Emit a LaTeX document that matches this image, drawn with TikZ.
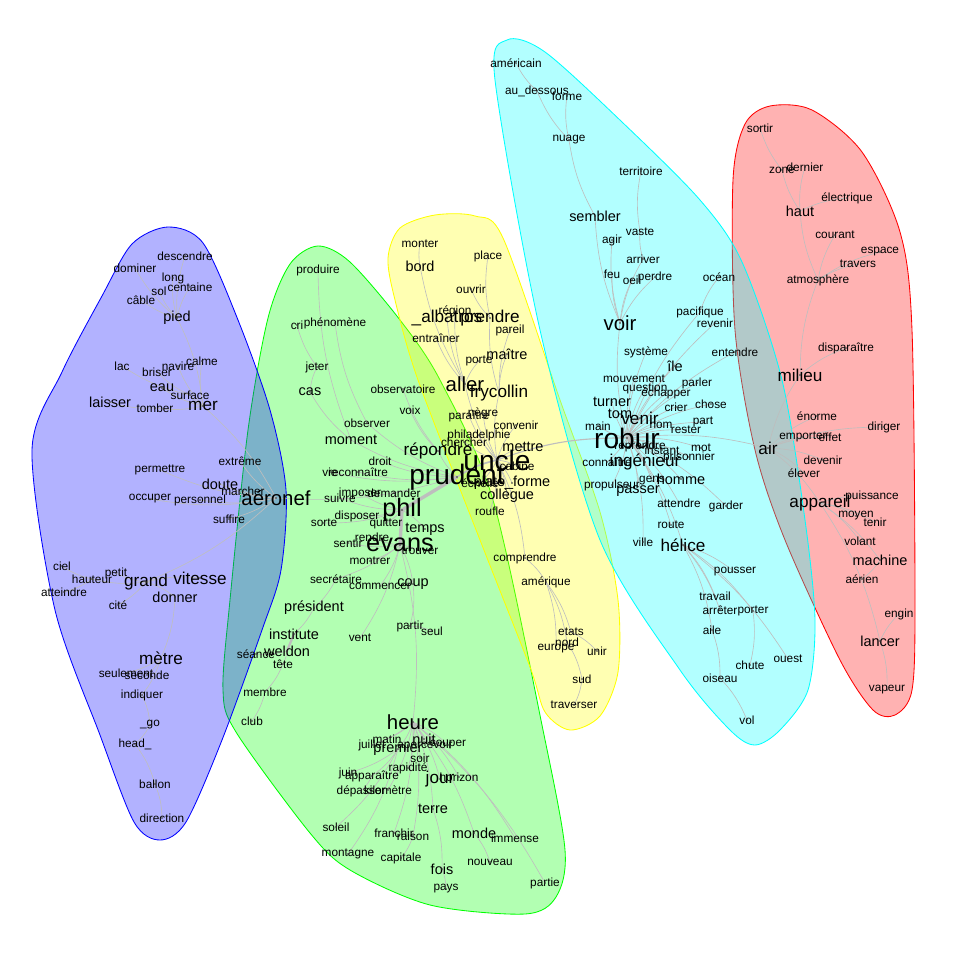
\documentclass[tikz,border=0pt]{standalone}
\usepackage{fontspec}
\setmainfont{Liberation Sans}
\usepackage{xcolor}
\usepackage{tikz}

\definecolor{bleu}{RGB}{0,0,255}
\definecolor{vert}{RGB}{0,255,0}
\definecolor{jaune}{RGB}{255,255,0}
\definecolor{cyanclair}{RGB}{0,255,255}
\definecolor{rouge}{RGB}{255,0,0}
\definecolor{gris}{RGB}{190,190,190}

\pgfdeclarelayer{enveloppes}
\pgfdeclarelayer{liens}
\pgfsetlayers{enveloppes,liens,main}

\begin{document}
\begin{tikzpicture}[
    x=0.025cm, y=-0.025cm,
    point/.style={circle, fill=black!80, inner sep=0pt, minimum size=1.2pt},
    mot/.style={inner sep=0pt, font=\fontsize{8.4}{9}\selectfont, label={[point]center:{}}},
    motm/.style={mot, font=\fontsize{10.3}{11}\selectfont},
    motl/.style={mot, font=\fontsize{12.2}{13}\selectfont},
    motxl/.style={mot, font=\fontsize{14.5}{15}\selectfont},
    motxxl/.style={mot, font=\fontsize{18}{19}\selectfont},
    mottitre/.style={mot, font=\fontsize{20}{21}\selectfont},
    enveloppe/.style={draw=#1, fill=#1, fill opacity=0.3, draw opacity=1, line width=0.6pt},
    every edge/.style={draw=gris, line width=0.45pt, bend left=10},
    lienfort/.style={line width=2.4pt, bend left=0}
]
\useasboundingbox (0,0) rectangle (960,960);

% mots du groupe bleu
\node[mot] (descendre) at (185,256) {descendre};
\node[mot] (dominer) at (135,268) {dominer};
\node[mot] (long) at (173,278) {long};
\node[mot] (sol) at (159,291) {sol};
\node[mot] (centaine) at (190,287) {centaine};
\node[mot] (cable) at (141,300) {câble};
\node[motm] (pied) at (177,318) {pied};
\node[mot] (lac) at (122,366) {lac};
\node[mot] (calme) at (202,361) {calme};
\node[mot] (navire) at (178,366) {navire};
\node[mot] (briser) at (157,372) {briser};
\node[motm] (eau) at (162,388) {eau};
\node[mot] (surface) at (190,395) {surface};
\node[motm] (laisser) at (110,402) {laisser};
\node[mot] (tomber) at (155,408) {tomber};
\node[motl] (mer) at (203,406) {mer};
\node[mot] (permettre) at (160,470) {permettre};
\node[mot] (extreme) at (240,461) {extrême};
\node[motm] (doute) at (220,484) {doute};
\node[mot] (marcher) at (243,491) {marcher};
\node[mot] (occuper) at (150,499) {occuper};
\node[mot] (personnel) at (200,500) {personnel};
\node[mot] (suffire) at (229,519) {suffire};
\node[mot] (ciel) at (62,566) {ciel};
\node[mot] (petit) at (116,573) {petit};
\node[mot] (hauteur) at (92,579) {hauteur};
\node[motl] (grand) at (146,582) {grand};
\node[motl] (vitesse) at (200,578) {vitesse};
\node[mot] (atteindre) at (64,592) {atteindre};
\node[motm] (donner) at (175,597) {donner};
\node[mot] (cite) at (118,605) {cité};
\node[motl] (metre) at (161,658) {mètre};
\node[mot] (seulement) at (126,673) {seulement};
\node[mot] (seconde) at (147,675) {seconde};
\node[mot] (indiquer) at (142,695) {indiquer};
\node[mot] (go) at (150,725) {\_go};
\node[mot] (head) at (135,744) {head\_};
\node[mot] (ballon) at (155,784) {ballon};
\node[mot] (direction) at (162,818) {direction};

% mots du groupe vert
\node[motxl] (aeronef) at (276,498) {aéronef};
\node[mot] (produire) at (318,270) {produire};
\node[mot] (cri) at (297,325) {cri};
\node[mot] (phenomene) at (335,323) {phénomène};
\node[mot] (jeter) at (317,367) {jeter};
\node[motm] (cas) at (310,392) {cas};
\node[mot] (observatoire) at (403,389) {observatoire};
\node[mot] (voix) at (410,410) {voix};
\node[mot] (observer) at (367,423) {observer};
\node[motm] (moment) at (351,440) {moment};
\node[motl] (repondre) at (438,451) {répondre};
\node[mottitre] (prudent) at (457,477) {prudent};
\node[mot] (droit) at (380,461) {droit};
\node[mot] (vie) at (330,472) {vie};
\node[mot] (reconnaitre) at (358,472) {reconnaître};
\node[mot] (imposer) at (360,493) {imposer};
\node[mot] (demander) at (394,493) {demander};
\node[mot] (suivre) at (340,498) {suivre};
\node[mot] (sorte) at (324,523) {sorte};
\node[mot] (disposer) at (357,516) {disposer};
\node[mot] (quitter) at (386,523) {quitter};
\node[mot] (rendre) at (372,537) {rendre};
\node[mot] (sentir) at (348,543) {sentir};
\node[motxxl] (phil) at (402,510) {phil};
\node[motm] (temps) at (425,529) {temps};
\node[motxxl] (evans) at (400,545) {evans};
\node[mot] (trouver) at (420,551) {trouver};
\node[mot] (montrer) at (370,561) {montrer};
\node[mot] (secretaire) at (336,579) {secrétaire};
\node[mot] (commencer) at (380,586) {commencer};
\node[motm] (coup) at (413,584) {coup};
\node[motm] (president) at (314,608) {président};
\node[mot] (partir) at (410,626) {partir};
\node[mot] (seul) at (432,631) {seul};
\node[mot] (vent) at (360,638) {vent};
\node[motm] (institute) at (294,634) {institute};
\node[motm] (weldon) at (287,651) {weldon};
\node[mot] (seance) at (256,654) {séance};
\node[mot] (tete) at (283,664) {tête};
\node[mot] (membre) at (265,692) {membre};
\node[mot] (club) at (252,721) {club};
\node[motxl] (heure) at (413,722) {heure};
\node[mot] (matin) at (387,739) {matin};
\node[motm] (nuit) at (424,739) {nuit};
\node[mot] (juillet) at (372,745) {juillet};
\node[motm] (premier) at (398,749) {premier};
\node[mot] (apercevoir) at (425,745) {apercevoir};
\node[mot] (couper) at (448,745) {couper};
\node[mot] (soir) at (420,758) {soir};
\node[mot] (rapidite) at (408,768) {rapidité};
\node[mot] (juin) at (348,773) {juin};
\node[mot] (apparaitre) at (372,776) {apparaître};
\node[motl] (jour) at (440,779) {jour};
\node[mot] (horizon) at (459,777) {horizon};
\node[mot] (depasser) at (361,791) {dépasser};
\node[mot] (kilometre) at (388,790) {kilomètre};
\node[motm] (terre) at (433,809) {terre};
\node[mot] (soleil) at (336,827) {soleil};
\node[mot] (franchir) at (394,833) {franchir};
\node[mot] (raison) at (413,836) {raison};
\node[motm] (monde) at (474,833) {monde};
\node[mot] (immense) at (515,838) {immense};
\node[mot] (montagne) at (348,854) {montagne};
\node[mot] (capitale) at (401,858) {capitale};
\node[motm] (fois) at (442,869) {fois};
\node[mot] (nouveau) at (490,862) {nouveau};
\node[mot] (pays) at (446,889) {pays};
\node[mot] (partie) at (545,883) {partie};

% mots du groupe jaune
\node[mot] (monter) at (420,244) {monter};
\node[mot] (place) at (488,256) {place};
\node[motm] (bord) at (420,266) {bord};
\node[mot] (ouvrir) at (471,289) {ouvrir};
\node[mot] (region) at (455,311) {région};
\node[motl] (albatros) at (447,318) {\_albatros};
\node[motl] (prendre) at (490,318) {prendre};
\node[mot] (entrainer) at (436,338) {entraîner};
\node[mot] (pareil) at (510,330) {pareil};
\node[motm] (maitre) at (507,354) {maître};
\node[mot] (porte) at (479,361) {porte};
\node[motxl] (aller) at (465,384) {aller};
\node[motl] (frycollin) at (499,393) {frycollin};
\node[mot] (paraitre) at (469,416) {paraître};
\node[mot] (negre) at (483,413) {nègre};
\node[mot] (convenir) at (516,425) {convenir};
\node[mot] (philadelphie) at (479,435) {philadelphie};
\node[mot] (chercher) at (464,442) {chercher};
\node[motm] (mettre) at (523,447) {mettre};
\node[mottitre] (uncle) at (497,460) {uncle};
\node[mot] (cabine) at (517,466) {cabine};
\node[mot] (echelle) at (480,483) {échelle};
\node[motm] (plateforme) at (512,483) {plate\_forme};
\node[motm] (collegue) at (507,496) {collègue};
\node[mot] (roufle) at (490,511) {roufle};
\node[mot] (comprendre) at (525,558) {comprendre};
\node[mot] (amerique) at (546,582) {amérique};
\node[mot] (etats) at (571,632) {etats};
\node[mot] (nord) at (567,642) {nord};
\node[mot] (europe) at (556,649) {europe};
\node[mot] (unir) at (597,651) {unir};
\node[mot] (sud) at (582,679) {sud};
\node[mot] (traverser) at (574,705) {traverser};

% mots du groupe cyan
\node[mot] (americain) at (516,63) {américain};
\node[mot] (audessous) at (537,91) {au\_dessous};
\node[mot] (forme) at (567,96) {forme};
\node[mot] (nuage) at (569,140) {nuage};
\node[mot] (territoire) at (641,171) {territoire};
\node[motm] (sembler) at (595,216) {sembler};
\node[mot] (vaste) at (640,232) {vaste};
\node[mot] (agir) at (612,240) {agir};
\node[mot] (arriver) at (643,259) {arriver};
\node[mot] (feu) at (612,274) {feu};
\node[mot] (oeil) at (632,280) {oeil};
\node[mot] (perdre) at (655,277) {perdre};
\node[mot] (ocean) at (719,277) {océan};
\node[motxl] (voir) at (620,323) {voir};
\node[mot] (pacifique) at (700,312) {pacifique};
\node[mot] (revenir) at (715,323) {revenir};
\node[mot] (systeme) at (646,352) {système};
\node[motm] (ile) at (675,366) {île};
\node[mot] (entendre) at (735,352) {entendre};
\node[mot] (mouvement) at (634,379) {mouvement};
\node[mot] (parler) at (697,383) {parler};
\node[mot] (question) at (645,388) {question};
\node[mot] (echapper) at (666,393) {échapper};
\node[motm] (turner) at (612,402) {turner};
\node[mot] (chose) at (711,404) {chose};
\node[mot] (crier) at (676,407) {crier};
\node[motm] (tom) at (620,414) {tom};
\node[motl] (venir) at (640,418) {venir};
\node[mot] (part) at (703,422) {part};
\node[mot] (nom) at (661,425) {nom};
\node[mot] (main) at (598,426) {main};
\node[mot] (rester) at (686,430) {rester};
\node[mottitre] (robur) at (627,438) {robur};
\node[mot] (reprendre) at (640,446) {reprendre};
\node[mot] (instant) at (662,450) {instant};
\node[mot] (mot) at (701,448) {mot};
\node[mot] (connaitre) at (607,462) {connaître};
\node[motl] (ingenieur) at (645,462) {ingénieur};
\node[mot] (prisonnier) at (689,457) {prisonnier};
\node[motm] (homme) at (681,479) {homme};
\node[mot] (gens) at (652,481) {gens};
\node[mot] (propulseur) at (612,485) {propulseur};
\node[motm] (passer) at (638,491) {passer};
\node[mot] (attendre) at (679,503) {attendre};
\node[mot] (garder) at (726,506) {garder};
\node[mot] (route) at (671,525) {route};
\node[mot] (ville) at (643,542) {ville};
\node[motl] (helice) at (683,545) {hélice};
\node[mot] (pousser) at (735,572) {pousser};
\node[mot] (travail) at (715,596) {travail};
\node[mot] (arreter) at (720,610) {arrêter};
\node[mot] (porter) at (753,611) {porter};
\node[mot] (aile) at (712,630) {aile};
\node[mot] (chute) at (750,665) {chute};
\node[mot] (ouest) at (788,659) {ouest};
\node[mot] (oiseau) at (720,678) {oiseau};
\node[mot] (vol) at (747,720) {vol};

% mots du groupe rouge
\node[mot] (sortir) at (760,128) {sortir};
\node[mot] (zone) at (782,170) {zone};
\node[mot] (dernier) at (805,167) {dernier};
\node[motm] (haut) at (800,211) {haut};
\node[mot] (electrique) at (847,198) {électrique};
\node[mot] (courant) at (835,235) {courant};
\node[mot] (espace) at (880,252) {espace};
\node[mot] (travers) at (858,264) {travers};
\node[mot] (atmosphere) at (818,280) {atmosphère};
\node[mot] (disparaitre) at (846,348) {disparaître};
\node[motl] (milieu) at (800,375) {milieu};
\node[mot] (enorme) at (817,416) {énorme};
\node[mot] (emporter) at (803,437) {emporter};
\node[mot] (effet) at (830,437) {effet};
\node[mot] (diriger) at (884,427) {diriger};
\node[motl] (air) at (768,448) {air};
\node[mot] (devenir) at (823,460) {devenir};
\node[mot] (elever) at (804,473) {élever};
\node[motl] (appareil) at (820,503) {appareil};
\node[mot] (puissance) at (872,496) {puissance};
\node[mot] (moyen) at (856,516) {moyen};
\node[mot] (tenir) at (875,522) {tenir};
\node[mot] (volant) at (860,541) {volant};
\node[motm] (machine) at (880,560) {machine};
\node[mot] (aerien) at (862,579) {aérien};
\node[mot] (engin) at (899,614) {engin};
\node[motm] (lancer) at (880,641) {lancer};
\node[mot] (vapeur) at (887,690) {vapeur};

% enveloppes des groupes
\begin{pgfonlayer}{enveloppes}
\draw[enveloppe=vert] plot[smooth cycle] coordinates {(318,246) (350,262) (400,320) (440,380) (493,500) (543,730) (565,850) (556,897) (525,914) (430,905) (350,870) (310,833) (236,732) (223,690) (230,600) (248,430) (268,318) (290,264)};
\draw[enveloppe=bleu] plot[smooth cycle] coordinates {(168,227) (203,243) (238,320) (270,410) (286,490) (281,570) (262,630) (222,740) (186,822) (160,840) (134,822) (100,735) (55,610) (32,450) (62,372) (102,296) (132,244)};
\draw[enveloppe=jaune] plot[smooth cycle] coordinates {(400,228) (435,215) (475,216) (503,238) (560,400) (600,512) (618,600) (618,672) (600,716) (570,730) (545,712) (530,667) (480,540) (418,380) (395,300) (388,258)};
\draw[enveloppe=rouge] plot[smooth cycle] coordinates {(770,106) (812,110) (862,152) (900,232) (912,330) (915,600) (912,690) (895,715) (873,710) (840,660) (785,540) (755,450) (735,330) (733,180) (745,124)};
\draw[enveloppe=cyanclair] plot[smooth cycle] coordinates {(507,40) (545,52) (622,122) (700,200) (742,262) (782,380) (805,520) (815,620) (808,690) (780,730) (755,745) (730,730) (680,670) (600,540) (540,330) (495,80)};
\end{pgfonlayer}

% liens entre les mots
\begin{pgfonlayer}{liens}
\path (pied.center) edge (descendre.center) edge (dominer.center) edge (long.center) edge (sol.center) edge (centaine.center) edge (cable.center) edge (mer.center);
\path (mer.center) edge (calme.center) edge (navire.center) edge (eau.center) edge (surface.center) edge (tomber.center) edge (aeronef.center);
\path (surface.center) edge (lac.center) edge (briser.center);
\path (tomber.center) edge (laisser.center);
\path (aeronef.center) edge (permettre.center) edge (extreme.center) edge (doute.center) edge (marcher.center) edge (occuper.center) edge (personnel.center) edge (suffire.center) edge (grand.center);
\path (grand.center) edge (petit.center) edge (hauteur.center) edge (cite.center) edge (vitesse.center) edge (donner.center);
\path (hauteur.center) edge (ciel.center) edge (atteindre.center);
\path (donner.center) edge (metre.center);
\path (metre.center) edge (seulement.center) edge (seconde.center) edge (indiquer.center);
\path (indiquer.center) edge (go.center);
\path (go.center) edge (head.center);
\path (head.center) edge (ballon.center);
\path (ballon.center) edge (direction.center);

\path (prudent.center) edge[lienfort] (phil.center) edge (aeronef.center) edge (repondre.center) edge (moment.center) edge (observer.center) edge (droit.center) edge (reconnaitre.center) edge (vie.center) edge[line width=1.2pt] (uncle.center);
\path (phil.center) edge[lienfort] (evans.center) edge (demander.center) edge (imposer.center) edge (suivre.center) edge (sorte.center) edge (disposer.center) edge (quitter.center) edge (temps.center);
\path (evans.center) edge (rendre.center) edge (sentir.center) edge (trouver.center) edge (montrer.center) edge (coup.center) edge (commencer.center) edge (secretaire.center) edge (vent.center) edge (heure.center);
\path (moment.center) edge (cas.center) edge (produire.center);
\path (cas.center) edge (jeter.center);
\path (jeter.center) edge (cri.center);
\path (observer.center) edge (phenomene.center);
\path (repondre.center) edge (observatoire.center) edge (voix.center);
\path (secretaire.center) edge (president.center);
\path (president.center) edge (institute.center);
\path (institute.center) edge[line width=1.6pt, bend left=0] (weldon.center);
\path (weldon.center) edge (seance.center) edge (tete.center);
\path (tete.center) edge (membre.center);
\path (membre.center) edge (club.center);
\path (coup.center) edge (partir.center);
\path (partir.center) edge (seul.center);
\path (heure.center) edge (matin.center) edge (nuit.center) edge (juillet.center) edge (premier.center) edge (apercevoir.center) edge (couper.center) edge (soir.center) edge (rapidite.center) edge (jour.center) edge (horizon.center) edge (kilometre.center) edge (terre.center) edge (monde.center) edge (immense.center) edge (partie.center) edge (franchir.center) edge (raison.center);
\path (premier.center) edge (apparaitre.center) edge (juin.center) edge (soleil.center) edge (montagne.center);
\path (apparaitre.center) edge (depasser.center);
\path (raison.center) edge (capitale.center);
\path (terre.center) edge (fois.center);
\path (fois.center) edge (pays.center);
\path (monde.center) edge (nouveau.center);

\path (uncle.center) edge (aller.center) edge (frycollin.center) edge (mettre.center) edge (paraitre.center) edge (negre.center) edge (convenir.center) edge (philadelphie.center) edge (chercher.center) edge (cabine.center) edge (plateforme.center) edge (echelle.center) edge (collegue.center) edge (roufle.center) edge (comprendre.center) edge[line width=0.8pt] (robur.center);
\path (aller.center) edge (albatros.center) edge (bord.center) edge (region.center) edge (entrainer.center) edge (porte.center);
\path (bord.center) edge (monter.center);
\path (frycollin.center) edge (prendre.center) edge (pareil.center) edge (maitre.center);
\path (prendre.center) edge (ouvrir.center) edge (place.center);
\path (comprendre.center) edge (amerique.center);
\path (amerique.center) edge (etats.center) edge (europe.center) edge (nord.center);
\path (etats.center) edge (unir.center);
\path (nord.center) edge (sud.center);
\path (sud.center) edge (traverser.center);

\path (robur.center) edge (voir.center) edge (pacifique.center) edge (revenir.center) edge (systeme.center) edge (ile.center) edge (entendre.center) edge (mouvement.center) edge (parler.center) edge (question.center) edge (echapper.center) edge (turner.center) edge (chose.center) edge (crier.center) edge (tom.center) edge (venir.center) edge (part.center) edge (nom.center) edge (main.center) edge (rester.center) edge (reprendre.center) edge (instant.center) edge (mot.center) edge (connaitre.center) edge (ingenieur.center) edge (prisonnier.center) edge (homme.center) edge (gens.center) edge (propulseur.center) edge (passer.center) edge (attendre.center) edge (garder.center) edge (route.center) edge (ville.center) edge (helice.center) edge (air.center);
\path (voir.center) edge (sembler.center) edge (agir.center) edge (feu.center) edge (oeil.center) edge (perdre.center) edge (arriver.center);
\path (sembler.center) edge (nuage.center);
\path (nuage.center) edge (forme.center) edge (audessous.center);
\path (audessous.center) edge (americain.center);
\path (arriver.center) edge (vaste.center);
\path (vaste.center) edge (territoire.center);
\path (pacifique.center) edge (ocean.center);
\path (helice.center) edge (pousser.center) edge (travail.center) edge (arreter.center) edge (porter.center) edge (ouest.center) edge (aile.center);
\path (aile.center) edge (oiseau.center);
\path (oiseau.center) edge (vol.center);
\path (porter.center) edge (chute.center);

\path (air.center) edge (milieu.center) edge (enorme.center) edge (emporter.center) edge (effet.center) edge (diriger.center) edge (devenir.center) edge (elever.center) edge (appareil.center);
\path (milieu.center) edge (atmosphere.center) edge (disparaitre.center);
\path (atmosphere.center) edge (haut.center) edge (courant.center) edge (espace.center) edge (travers.center);
\path (haut.center) edge (zone.center) edge (dernier.center) edge (electrique.center);
\path (zone.center) edge (sortir.center);
\path (appareil.center) edge (puissance.center) edge (moyen.center) edge (tenir.center) edge (volant.center) edge (machine.center) edge (lancer.center);
\path (machine.center) edge (aerien.center);
\path (lancer.center) edge (engin.center) edge (vapeur.center);
\end{pgfonlayer}

\end{tikzpicture}
\end{document}
